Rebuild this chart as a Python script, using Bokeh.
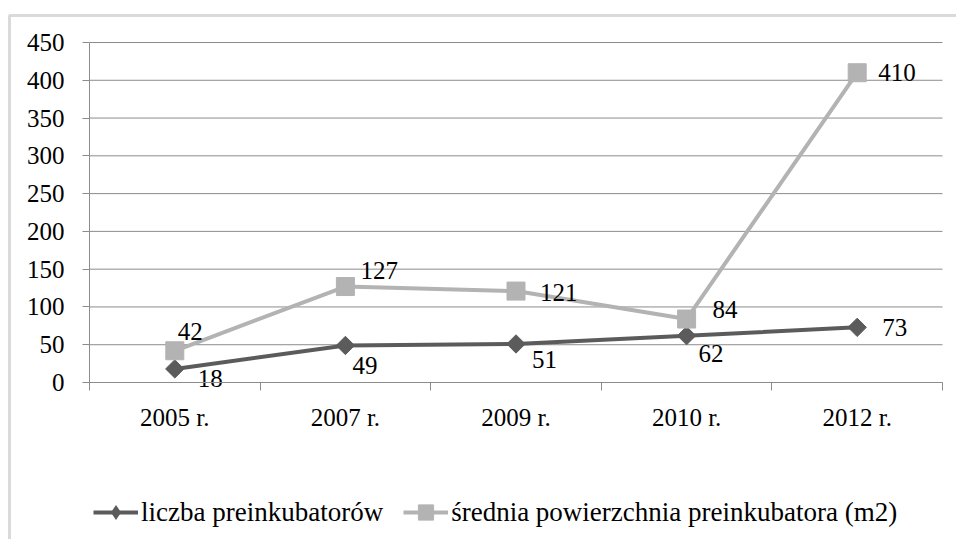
import math
from bokeh.plotting import figure
from bokeh.models import (Range1d, FixedTicker, ColumnDataSource, Legend, LegendItem,
                          BoxAnnotation, LinearAxis)
from bokeh.core.properties import value
from bokeh.embed import file_html
from bokeh.resources import INLINE

categories = ["2005 r.", "2007 r.", "2009 r.", "2010 r.", "2012 r."]
liczba = [18, 49, 51, 62, 73]
powierzchnia = [42, 127, 121, 84, 410]
y_ticks = [0, 50, 100, 150, 200, 250, 300, 350, 400, 450]

# label offsets (screen px, style only)
off1_x = [23, 7, 16, 12, 25]
off1_y = [10, 20, 16, 18, 0]
off2_x = [3, 15, 24, 26, 21]
off2_y = [-19, -16, 1, -10, 0]

FONT = "Liberation Serif"
DARK = "#5b5b5b"
LIGHT = "#b3b3b3"
GRID = "#8c8c8c"

# layout (screen px): canvas size and where the plotting area sits
W, H = 956, 539
PL, PR, PT, PB = 89, 942, 42, 382
n = len(categories)
y_max = y_ticks[-1]
xs_per_px = n / (PR - PL)
ys_per_px = y_max / (PB - PT)
x_range = Range1d(-PL * xs_per_px, n + (W - PR) * xs_per_px)
y_range = Range1d(-(H - PB) * ys_per_px, y_max + PT * ys_per_px)

xs = [i + 0.5 for i in range(n)]

p = figure(width=W, height=H, output_backend="svg", toolbar_location=None,
           x_range=x_range, y_range=y_range, x_axis_type=None, y_axis_type=None,
           min_border=0)
p.min_border_left = p.min_border_right = p.min_border_top = p.min_border_bottom = 0
p.outline_line_color = None
p.background_fill_color = "white"
p.border_fill_color = "white"
p.grid.grid_line_color = None

# horizontal gridlines
p.segment(x0=[0] * len(y_ticks), x1=[n] * len(y_ticks), y0=y_ticks, y1=y_ticks,
          line_color=GRID, line_width=1)

# axes
xaxis = LinearAxis(fixed_location=0, bounds=(0, n))
xaxis.ticker = FixedTicker(ticks=xs, minor_ticks=list(range(n + 1)))
xaxis.major_label_overrides = {x: c for x, c in zip(xs, categories)}
xaxis.major_tick_out = 0
xaxis.major_tick_in = 0
xaxis.minor_tick_out = 8
xaxis.minor_tick_in = 0
xaxis.minor_tick_line_color = GRID
xaxis.axis_line_color = GRID
xaxis.major_label_standoff = 13
xaxis.major_label_text_font = FONT
xaxis.major_label_text_font_size = "25px"
xaxis.major_label_text_color = "black"
p.add_layout(xaxis, "below")

yaxis = LinearAxis(fixed_location=0, bounds=(0, y_max))
yaxis.ticker = FixedTicker(ticks=y_ticks)
yaxis.major_tick_out = 7
yaxis.major_tick_in = 0
yaxis.minor_tick_line_color = None
yaxis.major_tick_line_color = GRID
yaxis.axis_line_color = GRID
yaxis.major_label_standoff = 18
yaxis.major_label_text_font = FONT
yaxis.major_label_text_font_size = "25px"
yaxis.major_label_text_color = "black"
p.add_layout(yaxis, "left")

s1 = ColumnDataSource(dict(x=xs, y=liczba, t=[str(v) for v in liczba], ox=off1_x, oy=off1_y))
s2 = ColumnDataSource(dict(x=xs, y=powierzchnia, t=[str(v) for v in powierzchnia], ox=off2_x, oy=off2_y))

l1 = p.line("x", "y", source=s1, line_color=DARK, line_width=4)
m1 = p.scatter("x", "y", source=s1, marker="square", angle=math.pi / 4, size=13,
               fill_color=DARK, line_color=DARK)
# legend-only diamond (legend markers are drawn without rotation); zero size on the plot
leg1 = p.scatter("x", "y", source=s1, marker="diamond", size=0,
                 fill_color=DARK, line_color=None)
l2 = p.line("x", "y", source=s2, line_color=LIGHT, line_width=4)
m2 = p.scatter("x", "y", source=s2, marker="square", size=18,
               fill_color=LIGHT, line_color=LIGHT)

for s in (s1, s2):
    p.text("x", "y", text="t", source=s, x_offset="ox", y_offset="oy",
           text_align="left", text_baseline="middle",
           text_font=value(FONT), text_font_size="25px", text_color="black")

legend = Legend(items=[
    LegendItem(label="liczba preinkubatorów", renderers=[l1, leg1]),
    LegendItem(label="średnia powierzchnia preinkubatora (m2)", renderers=[l2, m2]),
], orientation="horizontal", location=(93, 8))
legend.glyph_width = 45
legend.glyph_height = 38
legend.label_standoff = 3
legend.spacing = 20
legend.padding = 0
legend.margin = 0
legend.border_line_color = None
legend.background_fill_alpha = 0
legend.label_text_font = FONT
legend.label_text_font_size = "27px"
legend.label_text_color = "black"
p.add_layout(legend)

frame_box = BoxAnnotation(left=9, right=3000, top=H - 15, bottom=-3000,
                          left_units="screen", right_units="screen",
                          top_units="screen", bottom_units="screen",
                          fill_color=None, fill_alpha=0,
                          line_color="#868686", line_width=3)
p.add_layout(frame_box)

open("out.html", "w").write(file_html(p, INLINE))
